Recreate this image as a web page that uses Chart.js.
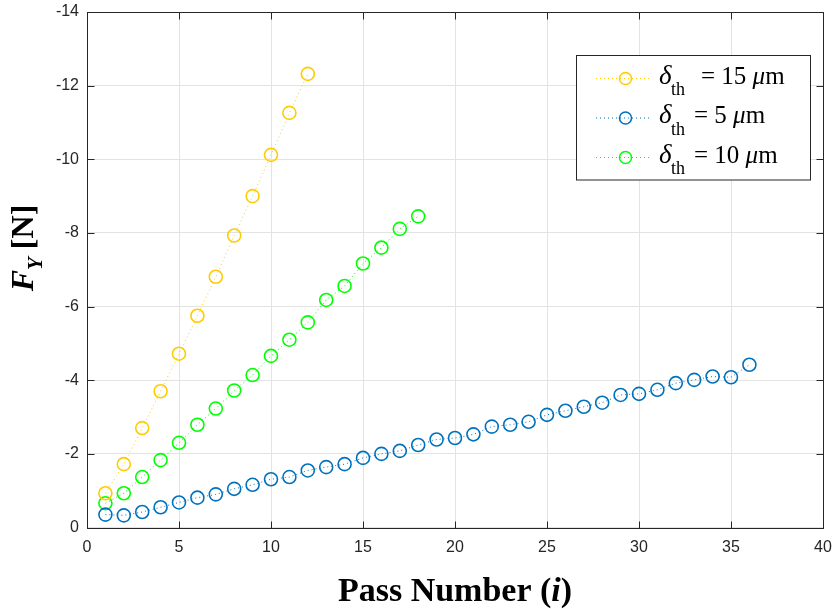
<!DOCTYPE html>
<html>
<head>
<meta charset="utf-8">
<script src="https://cdn.jsdelivr.net/npm/chart.js@4"></script>
<style>
  html, body { margin: 0; padding: 0; background: #ffffff; }
  #wrap { width: 837px; height: 609px; position: relative; }
</style>
</head>
<body>
<div id="wrap"><canvas id="fy"></canvas></div>
<script>
// Pass numbers (x) and lateral force F_Y in newtons (y) for each depth of cut
const passNumbers = [1, 2, 3, 4, 5, 6, 7, 8, 9, 10, 11, 12, 13, 14, 15, 16, 17, 18,
                     19, 20, 21, 22, 23, 24, 25, 26, 27, 28, 29, 30, 31, 32, 33, 34, 35, 36];

const fy15um = [-0.93, -1.72, -2.70, -3.70, -4.72, -5.75, -6.81, -7.93, -9.00, -10.12, -11.26, -12.32];

const fy5um = [-0.35, -0.33, -0.42, -0.55, -0.68, -0.81, -0.90, -1.05, -1.16, -1.31, -1.37, -1.55,
               -1.64, -1.72, -1.89, -2.00, -2.08, -2.24, -2.39, -2.43, -2.53, -2.74, -2.79, -2.87,
               -3.06, -3.17, -3.28, -3.39, -3.60, -3.63, -3.74, -3.92, -4.01, -4.10, -4.08, -4.42];

const fy10um = [-0.66, -0.93, -1.37, -1.83, -2.30, -2.79, -3.23, -3.72, -4.14, -4.66, -5.10, -5.57,
                -6.18, -6.56, -7.17, -7.60, -8.11, -8.45];

const depthValues = ['15', '5', '10'];
const seriesColors = ['#FFCC00', '#0072BD', '#00FF00'];

const xTicks = [0, 5, 10, 15, 20, 25, 30, 35, 40];
const yTicks = [0, -2, -4, -6, -8, -10, -12, -14];

const serif = '"Liberation Serif", "Times New Roman", serif';
const sans = '"Liberation Sans", Arial, sans-serif';

function toPoints(values) {
  return values.map((v, i) => ({ x: passNumbers[i], y: v }));
}

function makeSet(label, values, color) {
  return {
    label: label,
    data: toPoints(values),
    borderColor: color,
    backgroundColor: color,
    borderWidth: 1,
    borderDash: [1, 3],
    pointRadius: 6.5,
    pointHoverRadius: 6.5,
    pointBorderWidth: 1.6,
    pointBorderColor: color,
    pointBackgroundColor: 'rgba(0,0,0,0)',
    tension: 0,
    fill: false
  };
}

// draw a row of differently styled text pieces starting at x
function runsWidth(ctx, runs) {
  let w = 0;
  for (const r of runs) { ctx.font = r.font; w += ctx.measureText(r.text).width; }
  return w;
}
function drawRuns(ctx, runs, x, y) {
  for (const r of runs) {
    ctx.font = r.font;
    if (r.at !== undefined) x = r.at;
    ctx.fillText(r.text, x, y + (r.dy || 0));
    x += ctx.measureText(r.text).width;
  }
}

const decorations = {
  id: 'decorations',
  afterDatasetsDraw(chart) {
    const ctx = chart.ctx;
    const a = chart.chartArea;
    const xs = chart.scales.x, ys = chart.scales.y;
    ctx.save();

    // axes box with inward ticks
    ctx.strokeStyle = '#262626';
    ctx.lineWidth = 1;
    const L = Math.round(a.left) + 0.5, R = Math.round(a.right) + 0.5;
    const T = Math.round(a.top) + 0.5, B = Math.round(a.bottom) + 0.5;
    ctx.strokeRect(L, T, R - L, B - T);
    const tl = 7;
    ctx.beginPath();
    for (const v of xTicks) {
      const px = Math.round(xs.getPixelForValue(v)) + 0.5;
      ctx.moveTo(px, B); ctx.lineTo(px, B - tl);
      ctx.moveTo(px, T); ctx.lineTo(px, T + tl);
    }
    for (const v of yTicks) {
      const py = Math.round(ys.getPixelForValue(v)) + 0.5;
      ctx.moveTo(L, py); ctx.lineTo(L + tl, py);
      ctx.moveTo(R, py); ctx.lineTo(R - tl, py);
    }
    ctx.stroke();

    ctx.fillStyle = '#000000';
    ctx.textBaseline = 'alphabetic';
    ctx.textAlign = 'left';

    // x axis title
    const xRuns = [
      { text: 'Pass Number (', font: 'bold 34px ' + serif },
      { text: 'i', font: 'italic bold 34px ' + serif },
      { text: ')', font: 'bold 34px ' + serif }
    ];
    const xw = runsWidth(ctx, xRuns);
    drawRuns(ctx, xRuns, (a.left + a.right) / 2 - xw / 2, 601);

    // y axis title
    const yRuns = [
      { text: 'F', font: 'italic bold 32px ' + serif },
      { text: 'Y', font: 'italic bold 21px ' + serif, dy: 9 },
      { text: ' [N]', font: 'bold 32px ' + serif }
    ];
    const yw = runsWidth(ctx, yRuns);
    ctx.save();
    ctx.translate(33, 248);
    ctx.rotate(-Math.PI / 2);
    drawRuns(ctx, yRuns, -yw / 2, 0);
    ctx.restore();

    // legend
    const bx = 576.5, by = 55.5, bw = 234, bh = 124.5;
    ctx.fillStyle = '#ffffff';
    ctx.fillRect(bx, by, bw, bh);
    ctx.strokeStyle = '#262626';
    ctx.lineWidth = 1;
    ctx.strokeRect(bx, by, bw, bh);
    const rowY = [78.5, 118, 157.5];
    const relAt = [701, 694, 694];
    chart.data.datasets.forEach((ds, i) => {
      const cy = rowY[i];
      ctx.strokeStyle = seriesColors[i];
      ctx.lineWidth = 1;
      ctx.setLineDash([1, 3]);
      ctx.beginPath();
      ctx.moveTo(596, cy); ctx.lineTo(652, cy);
      ctx.stroke();
      ctx.setLineDash([]);
      ctx.lineWidth = 1.5;
      ctx.beginPath();
      ctx.arc(625.5, cy, 6, 0, Math.PI * 2);
      ctx.stroke();

      ctx.fillStyle = '#000000';
      const runs = [
        { text: 'δ', font: 'italic 27px ' + serif, at: 659 },
        { text: 'th', font: '18px ' + serif, dy: 11.5, at: 671 },
        { text: '= ' + depthValues[i] + ' ', font: '25px ' + serif, at: relAt[i] },
        { text: 'μ', font: 'italic 25px ' + serif },
        { text: 'm', font: '25px ' + serif }
      ];
      drawRuns(ctx, runs, 659, cy + 5);
    });

    ctx.restore();
  }
};

new Chart(document.getElementById('fy'), {
  type: 'line',
  data: {
    datasets: [
      makeSet('δth = 15 μm', fy15um, seriesColors[0]),
      makeSet('δth = 5 μm', fy5um, seriesColors[1]),
      makeSet('δth = 10 μm', fy10um, seriesColors[2])
    ]
  },
  options: {
    responsive: true,
    maintainAspectRatio: false,
    animation: false,
    events: [],
    layout: { autoPadding: false, padding: { left: 0, top: 12, right: 14, bottom: 0 } },
    plugins: {
      legend: { display: false },
      tooltip: { enabled: false },
      title: { display: false }
    },
    scales: {
      x: {
        type: 'linear',
        min: 0,
        max: 40,
        afterBuildTicks: (s) => { s.ticks = xTicks.map(v => ({ value: v })); },
        afterFit: (s) => { s.height = 81.5; s.paddingLeft = 0; s.paddingRight = 0; },
        ticks: {
          padding: 10,
          color: '#262626',
          font: { family: sans, size: 16 },
          maxRotation: 0,
          autoSkip: false
        },
        grid: { color: '#e3e3e3', lineWidth: 1, drawTicks: false },
        border: { display: false }
      },
      y: {
        type: 'linear',
        min: -14,
        max: 0,
        reverse: true,
        afterBuildTicks: (s) => { s.ticks = yTicks.map(v => ({ value: v })); },
        afterFit: (s) => { s.width = 87; s.paddingTop = 0; s.paddingBottom = 0; },
        ticks: {
          padding: 8,
          color: '#262626',
          font: { family: sans, size: 16 },
          autoSkip: false
        },
        grid: { color: '#e3e3e3', lineWidth: 1, drawTicks: false },
        border: { display: false }
      }
    }
  },
  plugins: [decorations]
});
</script>
</body>
</html>
